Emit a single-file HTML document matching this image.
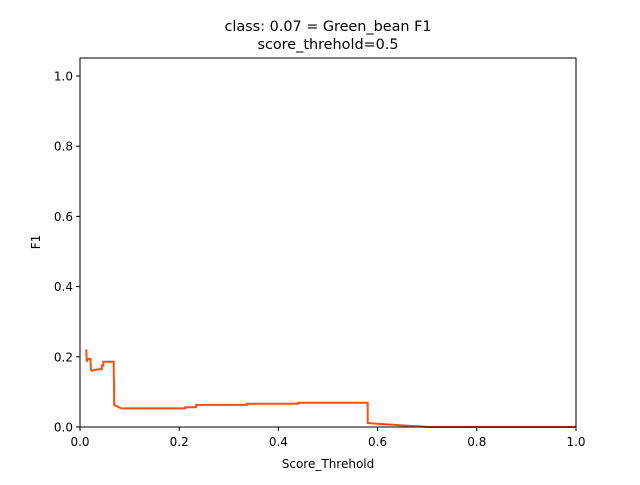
<!DOCTYPE html>
<html><head><meta charset="utf-8"><style>
body{margin:0;background:#fff;}
svg text{font-family:"DejaVu Sans","Liberation Sans",sans-serif;fill:#000;}
</style></head><body>
<svg id="chart" width="640" height="480" xmlns="http://www.w3.org/2000/svg">
<rect width="640" height="480" fill="#fff"/>
<text x="328" y="31" font-size="14.4" text-anchor="middle">class: 0.07 = Green_bean F1</text>
<text x="328" y="49" font-size="14.4" text-anchor="middle">score_threhold=0.5</text>
<g id="ticks"></g>
<path id="line" fill="none" stroke="#ff4f0f" stroke-width="2"/>
<rect x="80" y="58" width="496" height="369" fill="none" stroke="#000" stroke-width="1"/>
<text x="328" y="468" font-size="12" text-anchor="middle">Score_Threhold</text>
<text x="40" y="242" font-size="12" text-anchor="middle" transform="rotate(-90 40 242)">F1</text>
</svg>
<script>
const xTicks=[0,0.2,0.4,0.6,0.8,1.0];
const xTickLabels=["0.0","0.2","0.4","0.6","0.8","1.0"];
const yTicks=[0,0.2,0.4,0.6,0.8,1.0];
const yTickLabels=["0.0","0.2","0.4","0.6","0.8","1.0"];
const thresholds=[0.0127,0.0135,0.016,0.021,0.022,0.024,0.03,0.03,0.04,0.044,0.044,0.047,0.047,0.05,0.068,0.069,0.083,0.212,0.212,0.234,0.234,0.336,0.336,0.44,0.44,0.58,0.58,0.70,1.0];
const f1Values=[0.221,0.186,0.194,0.194,0.165,0.16,0.163,0.163,0.165,0.165,0.175,0.175,0.186,0.186,0.186,0.063,0.053,0.053,0.056,0.056,0.063,0.063,0.066,0.066,0.069,0.069,0.011,0.0,0.0];
const sx=v=>80+v*496, sy=v=>427-v*351;
const ns="http://www.w3.org/2000/svg";
const g=document.getElementById('ticks');
xTicks.forEach((t,i)=>{
 const l=document.createElementNS(ns,'line');
 
 
 l.setAttribute('x1',sx(t));l.setAttribute('x2',sx(t));l.setAttribute('y1',427);l.setAttribute('y2',431);l.setAttribute('stroke','#000');g.appendChild(l);
 const tx=document.createElementNS(ns,'text');
 
 
 tx.setAttribute('x',sx(t));tx.setAttribute('y',446);tx.setAttribute('font-size','12');tx.setAttribute('text-anchor','middle');tx.textContent=xTickLabels[i];g.appendChild(tx);
});
yTicks.forEach((t,i)=>{
 const l=document.createElementNS(ns,'line');
 
 
 l.setAttribute('x1',76);l.setAttribute('x2',80);l.setAttribute('y1',sy(t));l.setAttribute('y2',sy(t));l.setAttribute('stroke','#000');g.appendChild(l);
 const tx=document.createElementNS(ns,'text');
 
 
 tx.setAttribute('x',73);tx.setAttribute('y',sy(t)+4.5);tx.setAttribute('font-size','12');tx.setAttribute('text-anchor','end');tx.textContent=yTickLabels[i];g.appendChild(tx);
});
document.getElementById('line').setAttribute('d',thresholds.map((x,i)=>(i?'L':'M')+sx(x).toFixed(1)+' '+sy(f1Values[i]).toFixed(1)).join(' '));
</script>
</body></html>
